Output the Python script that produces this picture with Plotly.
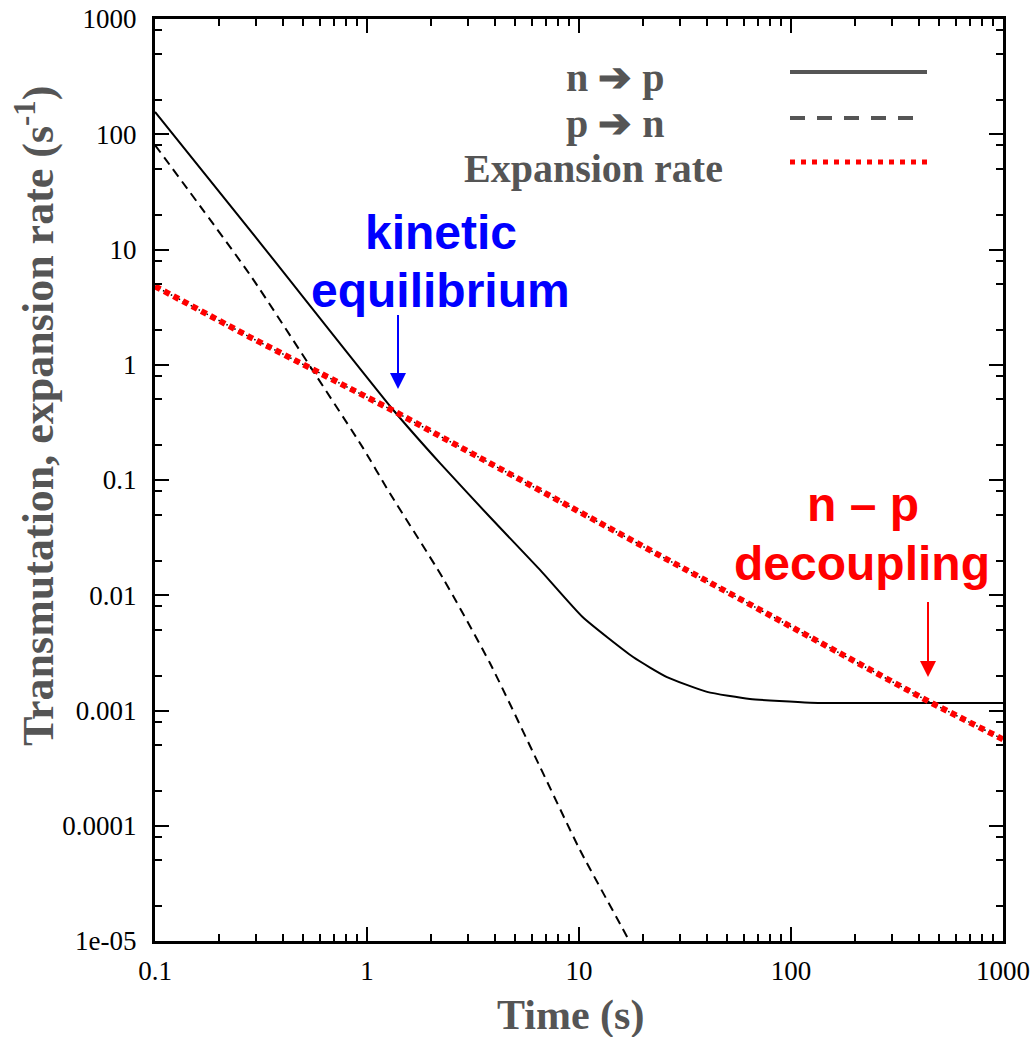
import plotly.graph_objects as go

# ---- data: time (s) and rates (s^-1) ----
t_np = [0.1, 0.316, 1.33, 2.21, 3.80, 6.55, 10.4, 18.0, 26.0, 40.2, 64.0, 123.0, 300.0, 1000.0]
rate_np = [156, 11.2, 0.405, 0.140, 0.0477, 0.0166, 0.00647, 0.00291, 0.00195,
           0.00145, 0.00126, 0.00117, 0.00116, 0.00116]

t_pn = [0.1, 0.281, 0.581, 0.957, 1.28, 2.28, 3.80, 6.55, 10.1, 16.0, 18.0]
rate_pn = [80.7, 6.01, 0.783, 0.190, 0.0771, 0.0141, 0.00258, 0.000324,
           0.0000617, 0.0000130, 0.0000087]

t_exp = [0.1, 0.28, 1.31, 18.4, 37.0, 453.0, 917.0, 1000.0]
rate_exp = [4.8, 1.74, 0.405, 0.029, 0.0144, 0.00118, 0.00061, 0.00056]

x_tickvals = [0.1, 1, 10, 100, 1000]
x_ticktext = ["0.1", "1", "10", "100", "1000"]
y_tickvals = [1e-5, 1e-4, 1e-3, 1e-2, 1e-1, 1, 10, 100, 1000]
y_ticktext = ["1e-05", "0.0001", "0.001", "0.01", "0.1", "1", "10", "100", "1000"]
x_minor = [m * d for d in [0.1, 1, 10, 100] for m in range(2, 10)]
y_minor = [m * d for d in [1e-5, 1e-4, 1e-3, 1e-2, 1e-1, 1, 10, 100] for m in (2, 5, 8)]

legend_labels = ["n \u2794 p", "p \u2794 n", "Expansion rate"]

# ---- geometry of the plotting area (px) ----
W, H = 1034, 1037
L, R, T, B = 155, 1003, 19, 941


def px(x, y):
    """pixel position -> paper coordinates"""
    return (x - L) / (R - L), (B - y) / (B - T)


SERIF = "Liberation Serif, Times New Roman, serif"
SANS = "Liberation Sans, Arial, sans-serif"
GRAY = "#555555"

fig = go.Figure()

fig.add_trace(go.Scatter(x=t_np, y=rate_np, mode="lines", name=legend_labels[0],
                         line=dict(color="black", width=2, shape="spline", smoothing=0.5),
                         showlegend=False))
fig.add_trace(go.Scatter(x=t_pn, y=rate_pn, mode="lines", name=legend_labels[1],
                         line=dict(color="black", width=2, dash="9px,6px",
                                   shape="spline", smoothing=0.6),
                         showlegend=False))
fig.add_trace(go.Scatter(x=t_exp, y=rate_exp, mode="lines", name=legend_labels[2] + " (under)",
                         line=dict(color="black", width=1.5, dash="1.5px,3px"), showlegend=False))
fig.add_trace(go.Scatter(x=t_exp, y=rate_exp, mode="lines", name=legend_labels[2],
                         line=dict(color="#ff0000", width=6, dash="6px,4.5px"), showlegend=False))

axis_common = dict(
    type="log", showgrid=False, zeroline=False, automargin=False,
    showline=True, linecolor="black", linewidth=3, mirror="allticks",
    ticks="inside", ticklen=14, tickwidth=2, tickcolor="black",
    tickfont=dict(family=SERIF, size=27, color="black"),
)

fig.update_xaxes(range=[-1, 3], tickmode="array", tickvals=x_tickvals, ticktext=x_ticktext,
                 ticklabelstandoff=4,
                 minor=dict(tickmode="array", tickvals=x_minor, ticks="inside", ticklen=7,
                            tickwidth=2, tickcolor="black", showgrid=False),
                 **axis_common)
fig.update_yaxes(range=[-5, 3], tickmode="array", tickvals=y_tickvals, ticktext=y_ticktext,
                 ticklabelstandoff=10,
                 minor=dict(tickmode="array", tickvals=y_minor, ticks="inside", ticklen=7,
                            tickwidth=2, tickcolor="black", showgrid=False),
                 **axis_common)

ann = []

# axis titles
x0, y0 = px(35, 416)
ann.append(dict(text="<b>Transmutation, expansion rate (s<sup>-1</sup>)</b>", x=x0, y=y0,
                xref="paper", yref="paper", textangle=-90, showarrow=False,
                xanchor="center", yanchor="middle",
                font=dict(family=SERIF, size=44, color=GRAY)))
x0, y0 = px(570, 1016)
ann.append(dict(text="<b>Time (s)</b>", x=x0, y=y0, xref="paper", yref="paper",
                showarrow=False, xanchor="center", yanchor="middle",
                font=dict(family=SERIF, size=42, color=GRAY)))

# legend text
for label, (cx, cy) in zip(legend_labels, [(615, 78), (615, 123), (593, 168)]):
    x0, y0 = px(cx, cy)
    ann.append(dict(text="<b>" + label + "</b>", x=x0, y=y0, xref="paper", yref="paper",
                    showarrow=False, xanchor="center", yanchor="middle",
                    font=dict(family=SERIF, size=40, color=GRAY)))

# callouts
for txt, (cx, cy), col in [("kinetic", (441, 232), "#0000ff"),
                           ("equilibrium", (440, 290), "#0000ff"),
                           ("n \u2013 p", (863, 505), "#ff0000"),
                           ("decoupling", (862, 563), "#ff0000")]:
    x0, y0 = px(cx, cy)
    ann.append(dict(text="<b>" + txt + "</b>", x=x0, y=y0, xref="paper", yref="paper",
                    showarrow=False, xanchor="center", yanchor="middle",
                    font=dict(family=SANS, size=48, color=col)))

shapes = []

# pointer arrows (shaft + filled head)
for (ax_px, top, tip), col in [((398, 315, 389), "#0000ff"), ((928, 602, 677), "#ff0000")]:
    head = 16
    xs, ys = px(ax_px, top)
    xh, yh = px(ax_px, tip - head)
    shapes.append(dict(type="line", xref="paper", yref="paper", x0=xs, x1=xh, y0=ys, y1=yh,
                       line=dict(color=col, width=2)))
    xl, yb = px(ax_px - 8, tip - head)
    xr, _ = px(ax_px + 8, tip - head)
    xt, yt = px(ax_px, tip)
    shapes.append(dict(type="path", xref="paper", yref="paper",
                       path=f"M{xl},{yb} L{xr},{yb} L{xt},{yt} Z",
                       fillcolor=col, line=dict(width=0)))

# legend line samples
for (xa, xb, yy), style in [((790, 927, 72), dict(color=GRAY, width=4)),
                            ((790, 918, 118), dict(color=GRAY, width=4, dash="15px,12px")),
                            ((790, 927, 162), dict(color="#ff0000", width=5, dash="5px,6px"))]:
    xa_p, yy_p = px(xa, yy)
    xb_p, _ = px(xb, yy)
    shapes.append(dict(type="line", xref="paper", yref="paper",
                       x0=xa_p, x1=xb_p, y0=yy_p, y1=yy_p, line=style))

fig.update_layout(
    width=W, height=H,
    margin=dict(l=L, r=W - R, t=T, b=H - B, pad=0),
    paper_bgcolor="white", plot_bgcolor="white",
    showlegend=False,
    annotations=ann, shapes=shapes,
)

fig.write_html("out.html")
